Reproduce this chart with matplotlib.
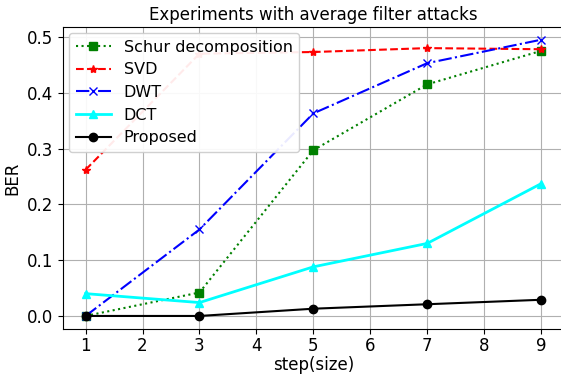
import matplotlib
matplotlib.use('Agg')
import matplotlib.pyplot as plt

steps = [1, 3, 5, 7, 9]
schur = [0.0, 0.042, 0.297, 0.415, 0.475]
svd = [0.262, 0.470, 0.473, 0.480, 0.478]
dwt = [0.0, 0.155, 0.363, 0.453, 0.495]
dct = [0.040, 0.024, 0.088, 0.130, 0.237]
proposed = [0.0, 0.0, 0.013, 0.021, 0.029]

plt.rcParams['font.size'] = 12

fig = plt.figure(figsize=(5.61, 3.79), dpi=100)
ax = fig.add_axes([0.112, 0.131, 0.893, 0.798])

ax.plot(steps, schur, color='green', linestyle=':', marker='s', markersize=6, linewidth=1.5, label='Schur decomposition')
ax.plot(steps, svd, color='red', linestyle='--', marker='*', markersize=6, linewidth=1.5, label='SVD')
ax.plot(steps, dwt, color='blue', linestyle='-.', marker='x', markersize=6, linewidth=1.5, label='DWT')
ax.plot(steps, dct, color='cyan', linestyle='-', marker='^', markersize=6, linewidth=2, label='DCT')
ax.plot(steps, proposed, color='black', linestyle='-', marker='o', markersize=6, linewidth=1.5, label='Proposed')

ax.set_xlim(0.6, 9.4)
ax.set_ylim(-0.024, 0.518)
ax.set_xticks(range(1, 10))
ax.set_yticks([0.0, 0.1, 0.2, 0.3, 0.4, 0.5])
ax.tick_params(axis='x', pad=2)
ax.grid(True)
ax.set_xlabel('step(size)', labelpad=1)
ax.set_ylabel('BER')
ax.set_title('Experiments with average filter attacks', fontsize=12, pad=5)
ax.legend(loc='upper left', fontsize=11.5, borderaxespad=0.4, handlelength=2.2,
          labelspacing=0.48, framealpha=0.92)

fig.savefig('out.png', dpi=100)
